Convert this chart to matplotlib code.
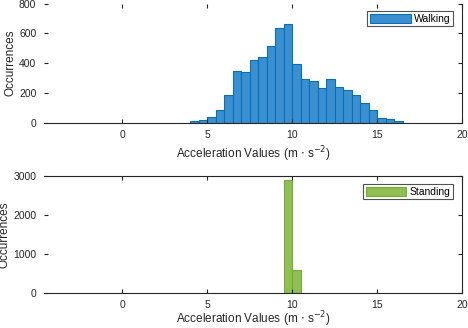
import numpy as np
import matplotlib

matplotlib.use("Agg")
import matplotlib.pyplot as plt

# Histogram bins (edges) and counts
walk_edges = [4.0, 4.5, 5.0, 5.5, 6.0, 6.5, 7.0, 7.5, 8.0, 8.5, 9.0, 9.5, 10.0,
              10.5, 11.0, 11.5, 12.0, 12.5, 13.0, 13.5, 14.0, 14.5, 15.0, 15.5,
              16.0, 16.5]
walk_counts = [9, 18, 36, 85, 183, 347, 338, 418, 438, 515, 635, 662, 394,
               291, 277, 230, 291, 237, 217, 186, 130, 83, 29, 22, 9]

stand_edges = [9.5, 10.0, 10.5]
stand_counts = [2905, 597]

x_ticks = [0, 5, 10, 15, 20]
walk_yticks = [0, 200, 400, 600, 800]
stand_yticks = [0, 1000, 2000, 3000]

plt.rcParams["font.family"] = ["Liberation Sans", "DejaVu Sans"]
plt.rcParams["font.size"] = 7.5

fig = plt.figure(figsize=(4.68, 3.28), dpi=100)
W, H = 468, 328


def axes_px(left, top, right, bottom):
    return fig.add_axes([left / W, 1 - bottom / H, (right - left) / W, (bottom - top) / H])


def style(ax, yticks, ylim, hide_top, xpad, xlabelpad):
    ax.set_xlim(-4.6, 20)
    ax.set_ylim(*ylim)
    ax.set_xticks(x_ticks)
    ax.set_yticks(yticks)
    ax.tick_params(direction="in", length=3, width=0.8, top=True, right=True,
                   labelsize=7.5, colors="#262626", pad=5.5)
    ax.tick_params(axis="x", pad=xpad)
    ax.spines["left"].set_visible(False)
    if hide_top:
        ax.spines["top"].set_visible(False)
    for s in ax.spines.values():
        s.set_color("#262626")
        s.set_linewidth(0.8)
    ax.set_xlabel("Acceleration Values (m $\\cdot$ s$^{-2}$)", fontsize=8.5,
                  color="#262626", labelpad=xlabelpad)
    ax.set_ylabel("Occurrences", fontsize=8.5, color="#262626", labelpad=2)


def add_legend(ax, anchor_y):
    leg = ax.legend(loc="upper right", bbox_to_anchor=(0.9785, anchor_y), fontsize=7.5,
                    handlelength=3.9, handleheight=1.0, borderpad=0.25, handletextpad=0.3,
                    frameon=True, fancybox=False, borderaxespad=0)
    leg.get_frame().set_edgecolor("#262626")
    leg.get_frame().set_linewidth(0.8)
    return leg


ax1 = axes_px(44, 3.5, 462, 122.7)
ax1.bar(walk_edges[:-1], walk_counts, width=0.5, align="edge", color="#3a8fd0",
        edgecolor="#0a6eb8", linewidth=0.8, label="Walking")
style(ax1, walk_yticks, (0, 800), True, 5.5, 3)
add_legend(ax1, 0.937)

ax2 = axes_px(44, 176.3, 462, 293.3)
ax2.bar(stand_edges[:-1], stand_counts, width=0.5, align="edge", color="#8fbf55",
        edgecolor="#77ac30", linewidth=0.8, label="Standing")
style(ax2, stand_yticks, (0, 3000), False, 4.5, 0)
add_legend(ax2, 0.934)

fig.savefig("out.png", dpi=100)
